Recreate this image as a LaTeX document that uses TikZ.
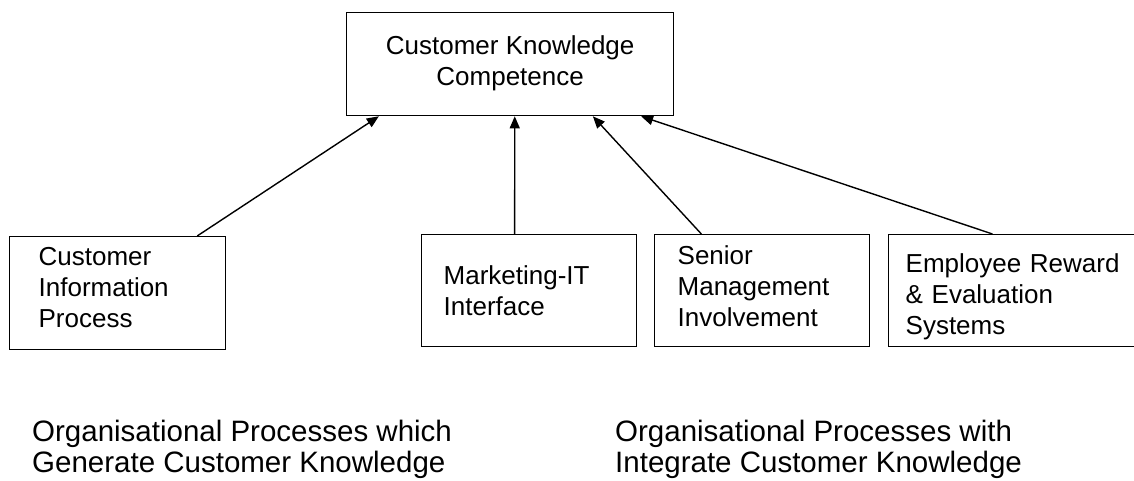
\documentclass[tikz,border=0pt]{standalone}
\usepackage{fontspec}
\setmainfont{Liberation Sans}
\usetikzlibrary{arrows.meta,calc}
\begin{document}
\begin{tikzpicture}[x=1pt,y=-1pt,
  frame/.style={draw, line width=1.3pt, rectangle, anchor=north west, font=\fontsize{26}{31}\selectfont},
  box/.style={frame, align=left, inner ysep=0pt},
  link/.style={line width=1.4pt, -{Triangle[length=12pt,width=10pt]}},
  caption/.style={anchor=north west, align=left, inner sep=0pt, font=\fontsize{29.5}{31}\selectfont}]
\clip (0,0) rectangle (1134,481);
\node[frame, minimum width=327pt, minimum height=103pt, inner sep=0pt] (ckc) at (346,12)
  {\begin{tabular}{@{}c@{}}Customer Knowledge\\Competence\end{tabular}\hspace{34pt}};
\node[box, text width=158pt, inner xsep=29pt, minimum height=113pt] (cip) at (9,236) {Customer\\Information\\Process\rule[-12pt]{0pt}{12pt}};
\node[box, text width=171pt, inner xsep=22pt, minimum height=112pt] (mit) at (421,234) {Marketing-IT\\Interface};
\node[box, text width=169pt, inner xsep=23pt, minimum height=112pt] (smi) at (654,234) {Senior\\Management\\Involvement\rule[-10pt]{0pt}{10pt}};
\node[box, text width=214pt, inner xsep=17pt, minimum height=112pt] (ere) at (888,234) {\rule{0pt}{31pt}Employee Reward\\\& Evaluation\\Systems};
\draw[link] ($(cip.north west)!0.866!(cip.north east)$) -- ($(ckc.south west)!0.10!(ckc.south east)$);
\draw[link] ($(mit.north west)!0.433!(mit.north east)$) -- ($(ckc.south west)!0.514!(ckc.south east)$);
\draw[link] ($(smi.north west)!0.219!(smi.north east)$) -- ($(ckc.south west)!0.752!(ckc.south east)$);
\draw[link] ($(ere.north west)!0.419!(ere.north east)$) -- ($(ckc.south west)!0.899!(ckc.south east)$);
\node[caption] (gen) at (32,420) {Organisational Processes which\\Generate Customer Knowledge};
\node[caption] (int) at (615,420) {Organisational Processes with\\Integrate Customer Knowledge};
\end{tikzpicture}
\end{document}
